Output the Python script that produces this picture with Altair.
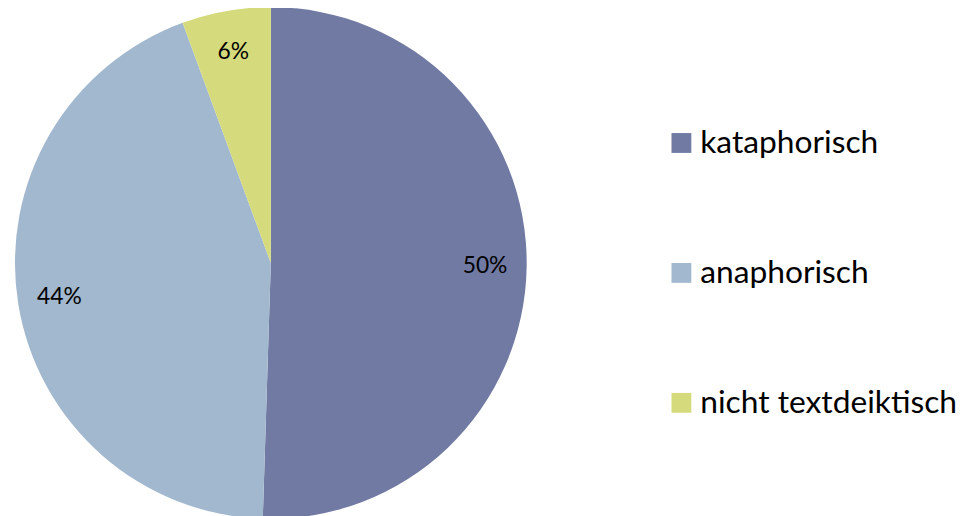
import altair as alt
import pandas as pd

categories = ["kataphorisch", "anaphorisch", "nicht textdeiktisch"]
values = [50.5, 43.9, 5.6]
labels = ["50%", "44%", "6%"]
colors = ["#717AA2", "#A2B8CE", "#D5DB7C"]

df = pd.DataFrame({"Kategorie": categories, "Wert": values, "Label": labels, "ord": [0, 1, 2]})

FONT = "Lato"
CX, CY, R = 265, 255, 258

base = alt.Chart(df).encode(
    theta=alt.Theta("Wert:Q", stack=True),
    order=alt.Order("ord:Q"),
)

pie = base.mark_arc(radius=R, strokeWidth=0).encode(
    x=alt.value(CX),
    y=alt.value(CY),
    color=alt.Color(
        "Kategorie:N",
        scale=alt.Scale(domain=categories, range=colors),
        sort=categories,
        legend=alt.Legend(
            title=None,
            orient="none",
            legendX=663,
            legendY=118,
            symbolType="square",
            symbolSize=400,
            symbolStrokeWidth=0,
            symbolOpacity=1,
            labelFontSize=32,
            labelFont=FONT,
            labelColor="#000000",
            labelOffset=3,
            labelLimit=400,
            rowPadding=99,
            padding=0,
        ),
    ),
)

text = base.mark_text(radius=216, font=FONT, fontSize=23, color="#000000").encode(
    x=alt.value(CX),
    y=alt.value(CY),
    text="Label:N",
)

chart = (
    alt.layer(pie, text)
    .properties(
        width=972,
        height=508,
        autosize=alt.AutoSizeParams(type="none"),
        padding=0,
        background="#FFFFFF",
    )
    .configure_view(strokeWidth=0, stroke="transparent")
)

chart.save("out.html", embed_options={"renderer": "svg", "actions": False})
